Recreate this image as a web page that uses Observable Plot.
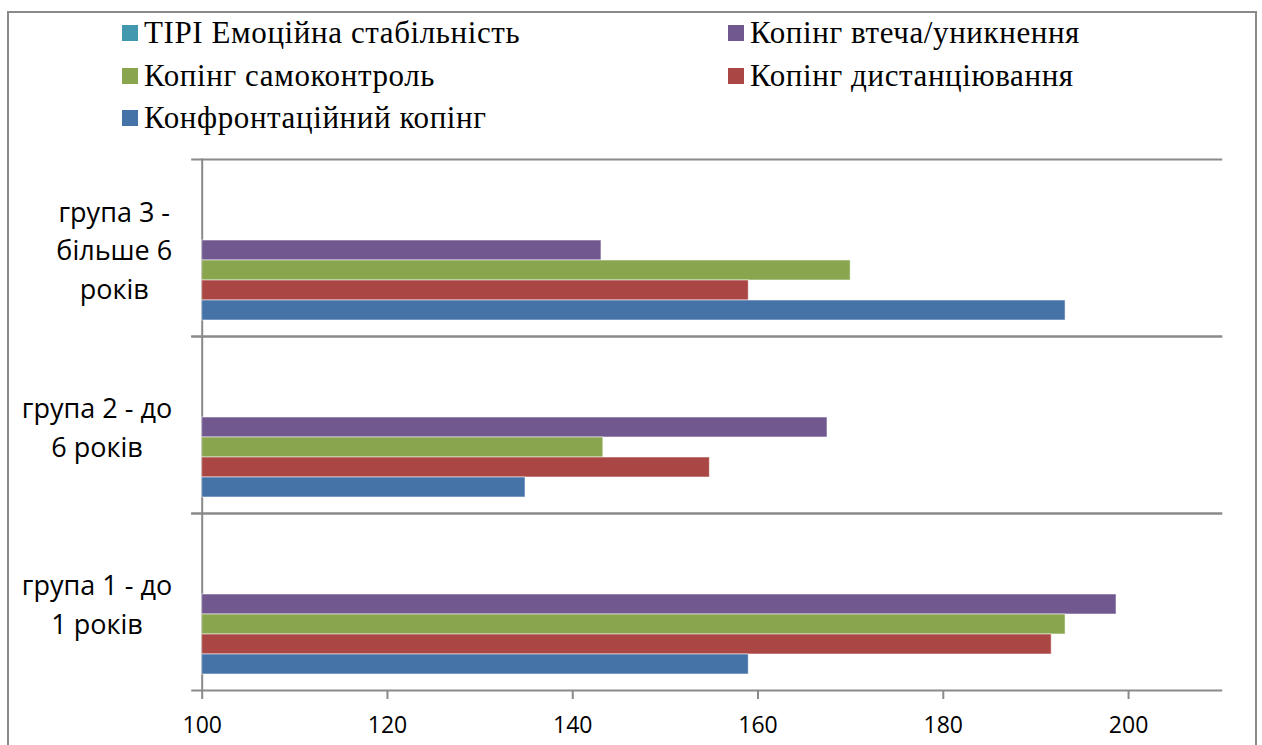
<!DOCTYPE html>
<html><head><meta charset="utf-8">
<script src="https://cdn.jsdelivr.net/npm/d3@7"></script>
<script src="https://cdn.jsdelivr.net/npm/@observablehq/plot@0.6"></script>
<style>
body{margin:0;background:#fff;}
#wrap{position:relative;width:1262px;height:745px;overflow:hidden;background:#fff;}
#border{position:absolute;left:7px;top:11px;width:1250px;height:800px;border:2px solid #8a8a8a;box-sizing:border-box;}
#chart{position:absolute;left:0;top:0;}
#legend{position:absolute;top:12px;left:0;font-family:"Liberation Serif","Times New Roman",serif;font-size:31px;letter-spacing:0.6px;color:#000;}
.item{position:absolute;display:flex;align-items:center;height:42.5px;white-space:nowrap;}
.sw{width:16px;height:16px;margin-right:6px;flex:none;}
</style></head><body>
<div id="wrap"><div id="border"></div><div id="chart"></div><div id="legend"></div></div>
<script>
// Categories (top to bottom)
const groups = ["група 3 - більше 6 років", "група 2 - до 6 років", "група 1 - до 1 років"];
const groupLabels = ["група 3 -\nбільше 6\nроків", "група 2 - до\n6 років", "група 1 - до\n1 років"];
// Series (top to bottom inside each group)
const series = ["TIPI Емоційна стабільність", "Копінг втеча/уникнення", "Копінг самоконтроль", "Копінг дистанціювання", "Конфронтаційний копінг"];
const colors = ["#4198AF", "#71588F", "#89A54E", "#AA4643", "#4572A7"];
// Values per group (group 3, group 2, group 1)
const tipi = [null, null, null]; // below the axis minimum, not visible
const avoidance = [143.1, 167.5, 198.7];
const selfControl = [170.0, 143.3, 193.2];
const distancing = [159.0, 154.8, 191.7];
const confrontation = [193.2, 134.9, 159.0];
const xTicks = [100, 120, 140, 160, 180, 200];
const xMax = 210;

const seriesValues = [tipi, avoidance, selfControl, distancing, confrontation];
const data = [];
groups.forEach((g, i) => series.forEach((s, j) => data.push({group: g, series: s, value: seriesValues[j][i]})));
const gray = "#8a8a8a";

// category labels: block right-aligned next to the axis, lines centred within the block
const labelFont = 27;
const ctx = document.createElement("canvas").getContext("2d");
ctx.font = labelFont + "px 'Open Sans'";
const blockRight = 30; // gap between label block and axis
const labelMarks = groups.map((g, i) => {
  const w = d3.max(groupLabels[i].split("\n"), l => ctx.measureText(l).width);
  return Plot.text([g], {fy: d => d, text: () => groupLabels[i], frameAnchor: "left", textAnchor: "middle",
    dx: -(blockRight + w / 2), fontSize: labelFont, lineHeight: 1.44, fill: "#000"});
});

const plot = Plot.plot({
  width: 1262, height: 745,
  marginTop: 158, marginBottom: 53.3, marginLeft: 201.7, marginRight: 41.3,
  style: {fontFamily: "'Open Sans', sans-serif", color: "#000", background: "transparent", overflow: "visible"},
  x: {domain: [xTicks[0], xMax]},
  y: {domain: series, paddingInner: 0, paddingOuter: 1.758, align: 0.786, axis: null},
  fy: {domain: groups, padding: 0, axis: null},
  color: {domain: series, range: colors},
  marks: [
    Plot.frame({anchor: "top", stroke: gray, strokeWidth: 2, insetLeft: -10}),
    Plot.frame({anchor: "bottom", stroke: gray, strokeWidth: 2, insetLeft: -10}),
    Plot.frame({anchor: "left", stroke: gray, strokeWidth: 2}),
    Plot.barX(data.filter(d => d.value != null), {
      fy: "group", y: "series", x1: () => xTicks[0], x2: "value",
      fill: "series", stroke: "#fff", strokeOpacity: 0.55, strokeWidth: 1
    }),
    Plot.axisX({ticks: xTicks, tickSize: 9, tickPadding: 17, fontSize: 23, stroke: gray, strokeWidth: 2, fill: "#000", label: null}),
    ...labelMarks
  ]
});
document.getElementById("chart").appendChild(plot);

// Legend (two columns)
const legendPos = [
  {col: 122, row: 0}, {col: 728, row: 0}, {col: 122, row: 1}, {col: 728, row: 1}, {col: 122, row: 2}
];
const legend = document.getElementById("legend");
series.forEach((s, i) => {
  const it = document.createElement("div");
  it.className = "item";
  it.style.left = legendPos[i].col + "px";
  it.style.top = (legendPos[i].row * 42.5) + "px";
  const sw = document.createElement("span");
  sw.className = "sw";
  sw.style.background = colors[i];
  const tx = document.createElement("span");
  tx.textContent = s;
  it.appendChild(sw); it.appendChild(tx);
  legend.appendChild(it);
});
</script>
</body></html>
